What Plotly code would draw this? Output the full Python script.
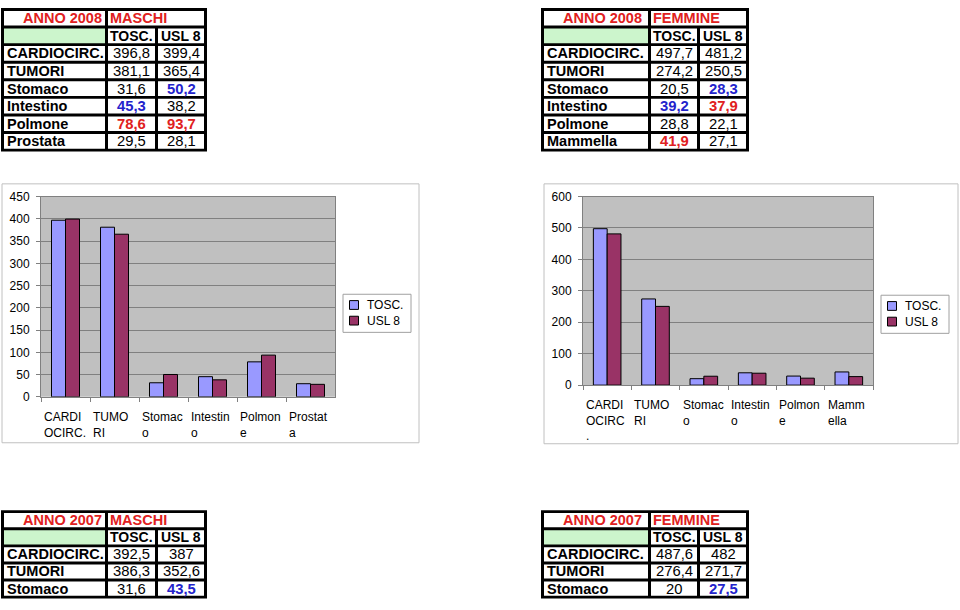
import plotly.graph_objects as go

W, H = 960, 610
FONT = "Liberation Sans, Arial, sans-serif"

# ---------------- data ----------------
series_names = ["TOSC.", "USL 8"]

categories_maschi = ["CARDIOCIRC.", "TUMORI", "Stomaco", "Intestino", "Polmone", "Prostata"]
categories_femmine = ["CARDIOCIRC.", "TUMORI", "Stomaco", "Intestino", "Polmone", "Mammella"]
axis_labels_maschi = ["CARDI<br>OCIRC.", "TUMO<br>RI", "Stomac<br>o", "Intestin<br>o", "Polmon<br>e", "Prostat<br>a"]
axis_labels_femmine = ["CARDI<br>OCIRC<br>.", "TUMO<br>RI", "Stomac<br>o", "Intestin<br>o", "Polmon<br>e", "Mamm<br>ella"]

tosc_m_2008 = [396.8, 381.1, 31.6, 45.3, 78.6, 29.5]
usl_m_2008 = [399.4, 365.4, 50.2, 38.2, 93.7, 28.1]
tosc_f_2008 = [497.7, 274.2, 20.5, 39.2, 28.8, 41.9]
usl_f_2008 = [481.2, 250.5, 28.3, 37.9, 22.1, 27.1]

categories_2007 = ["CARDIOCIRC.", "TUMORI", "Stomaco"]
tosc_m_2007 = [392.5, 386.3, 31.6]
usl_m_2007 = [387, 352.6, 43.5]
tosc_f_2007 = [487.6, 276.4, 20]
usl_f_2007 = [482, 271.7, 27.5]

yticks_maschi = [0, 50, 100, 150, 200, 250, 300, 350, 400, 450]
yticks_femmine = [0, 100, 200, 300, 400, 500, 600]

# highlight styles for table cells ("" normal, "b" blue bold, "r" red bold)
hl_tosc_m_2008 = ["", "", "", "b", "r", ""]
hl_usl_m_2008 = ["", "", "b", "", "r", ""]
hl_tosc_f_2008 = ["", "", "", "b", "", "r"]
hl_usl_f_2008 = ["", "", "b", "r", "", ""]
hl_tosc_m_2007 = ["", "", ""]
hl_usl_m_2007 = ["", "", "b"]
hl_tosc_f_2007 = ["", "", ""]
hl_usl_f_2007 = ["", "", "b"]

# ---------------- styles ----------------
C_TOSC = "#9999ff"
C_USL = "#993366"
C_RED = "#e02020"
C_BLUE = "#2323cc"
C_GREEN = "#ccf5cc"
C_GRID = "#808080"
C_FRAME = "#c0c0c0"


def px(x):
    return x / W


def py(y):
    return 1 - y / H


shapes = []
annotations = []


def rect(x0, y0, x1, y1, fill, line=None, lw=0, layer="above"):
    shapes.append(dict(type="rect", xref="paper", yref="paper",
                       x0=px(x0), x1=px(x1), y0=py(y1), y1=py(y0),
                       fillcolor=fill, line=dict(color=line or fill, width=lw), layer=layer))


def text(x, y, s, size=14, color="black", bold=False, anchor="left"):
    if bold:
        s = "<b>" + s + "</b>"
    annotations.append(dict(xref="paper", yref="paper", x=px(x), y=py(y), text=s,
                            showarrow=False, xanchor=anchor, yanchor="middle",
                            font=dict(family=FONT, size=size, color=color)))


def fmt(v):
    if float(v).is_integer():
        return str(int(v))
    return ("%.1f" % v).replace(".", ",")


def table(x0, y0, cols, rh, title_a, title_b, labels, tosc, usl, hl_t, hl_u):
    e = [x0, x0 + cols[0], x0 + cols[0] + cols[1], x0 + sum(cols)]
    nrows = 2 + len(labels)
    y1 = y0 + nrows * rh
    rect(e[0] - 2, y0 - 2, e[3] + 1, y1 + 1, "black")

    def cell(c0, c1, r, fill):
        rect(e[c0] + 1, y0 + r * rh + 1, e[c1] - 2, y0 + (r + 1) * rh - 2, fill)

    def cy(r):
        return y0 + (r + 0.5) * rh - 0.5

    cell(0, 1, 0, "white")
    cell(1, 3, 0, "white")
    text(x0 + 18, cy(0), title_a, size=14.5, color=C_RED, bold=True)
    text(e[1] + 1, cy(0), title_b, size=14.5, color=C_RED, bold=True)
    cell(0, 1, 1, C_GREEN)
    cell(1, 2, 1, "white")
    cell(2, 3, 1, "white")
    text((e[1] + e[2]) / 2 - 0.5, cy(1), series_names[0], size=14, bold=True, anchor="center")
    text((e[2] + e[3]) / 2 - 0.5, cy(1), series_names[1], size=14, bold=True, anchor="center")
    for i, lab in enumerate(labels):
        r = i + 2
        for c in range(3):
            cell(c, c + 1, r, "white")
        text(x0 + 1.5, cy(r), lab, size=14.5, bold=True)
        for c, vals, hl in ((1, tosc, hl_t), (2, usl, hl_u)):
            col = {"": "black", "b": C_BLUE, "r": C_RED}[hl[i]]
            text((e[c] + e[c + 1]) / 2 - 0.5, cy(r), fmt(vals[i]), size=14.8, color=col,
                 bold=hl[i] != "", anchor="center")


table(3, 3, [104, 50, 49], 18, "ANNO 2008", "MASCHI", categories_maschi,
      tosc_m_2008, usl_m_2008, hl_tosc_m_2008, hl_usl_m_2008)
table(543, 3, [107, 49, 49], 18, "ANNO 2008", "FEMMINE", categories_femmine,
      tosc_f_2008, usl_f_2008, hl_tosc_f_2008, hl_usl_f_2008)
table(3, 517, [104, 50, 49], 17.5, "ANNO 2007", "MASCHI", categories_2007,
      tosc_m_2007, usl_m_2007, hl_tosc_m_2007, hl_usl_m_2007)
table(543, 517, [107, 49, 49], 17.5, "ANNO 2007", "FEMMINE", categories_2007,
      tosc_f_2007, usl_f_2007, hl_tosc_f_2007, hl_usl_f_2007)

# ---------------- charts ----------------
fig = go.Figure()

charts = [
    dict(ax="", frame=(2, 181, 419, 446), plot=(41, 194, 335, 399), cats=categories_maschi,
         labels=axis_labels_maschi, t=tosc_m_2008, u=usl_m_2008, ticks=yticks_maschi,
         legend=(343, 294, 411, 333)),
    dict(ax="2", frame=(544, 181, 958, 447), plot=(583, 194, 873, 387), cats=categories_femmine,
         labels=axis_labels_femmine, t=tosc_f_2008, u=usl_f_2008, ticks=yticks_femmine,
         legend=(881, 295, 949, 334)),
]

layout_axes = {}
for ch in charts:
    a = ch["ax"]
    fx0, fy0, fx1, fy1 = ch["frame"]
    rect(fx0, fy0, fx1, fy1, "white", line=C_FRAME, lw=1, layer="below")
    shapes.append(dict(type="rect", xref="x%s domain" % a, yref="y%s domain" % a,
                       x0=0, x1=1, y0=0, y1=1, fillcolor="#c0c0c0",
                       line=dict(width=0), layer="below"))
    for name, vals, colr in ((series_names[0], ch["t"], C_TOSC), (series_names[1], ch["u"], C_USL)):
        fig.add_trace(go.Bar(x=ch["cats"], y=vals, name=name, xaxis="x" + a, yaxis="y" + a,
                             marker=dict(color=colr, line=dict(color="black", width=1)),
                             showlegend=False))
    plx0, ply0, plx1, ply1 = ch["plot"]
    layout_axes["xaxis" + a] = dict(
        domain=[px(plx0), px(plx1)], type="category", range=[-0.5, len(ch["cats"]) - 0.5],
        showline=True, linecolor=C_GRID, linewidth=1, mirror=True, ticks="outside",
        tickson="boundaries", ticklen=4, tickcolor=C_GRID, showticklabels=False,
        showgrid=False, fixedrange=True, anchor="y" + a)
    layout_axes["yaxis" + a] = dict(
        domain=[py(ply1), py(ply0)], range=[ch["ticks"][0], ch["ticks"][-1]],
        tickvals=ch["ticks"], showgrid=True, gridcolor=C_GRID, gridwidth=1,
        ticks="outside", ticklen=4, tickcolor=C_GRID, showline=True, linecolor=C_GRID,
        linewidth=1, mirror=True, zeroline=False, ticklabelstandoff=4,
        tickfont=dict(family=FONT, size=12, color="black"), fixedrange=True,
        anchor="x" + a)
    # category labels (left-aligned, wrapped as in the source)
    for i, lab in enumerate(ch["labels"]):
        annotations.append(dict(xref="x" + a, yref="paper", x=i - 0.5, y=py(ply1),
                                xanchor="left", yanchor="top", align="left", xshift=1,
                                yshift=-11, text=lab, showarrow=False,
                                font=dict(family=FONT, size=12, color="black")))
    # legend box
    lx0, ly0, lx1, ly1 = ch["legend"]
    rect(lx0, ly0, lx1, ly1, "white", line="#a0a0a0", lw=1)
    for k, (name, colr) in enumerate(((series_names[0], C_TOSC), (series_names[1], C_USL))):
        sy = ly0 + 6 + 16 * k
        rect(lx0 + 6.5, sy + 0.5, lx0 + 15.5, sy + 9.5, colr, line="black", lw=1)
        text(lx0 + 22, sy + 5, name, size=12)

fig.update_layout(
    width=W, height=H, autosize=False,
    margin=dict(l=0, r=0, t=0, b=0, pad=0),
    paper_bgcolor="white", plot_bgcolor="rgba(0,0,0,0)",
    barmode="group", bargap=1.5 / 3.5, bargroupgap=0,
    shapes=shapes, annotations=annotations, showlegend=False,
    font=dict(family=FONT),
    **layout_axes,
)

fig.write_html("out.html")
